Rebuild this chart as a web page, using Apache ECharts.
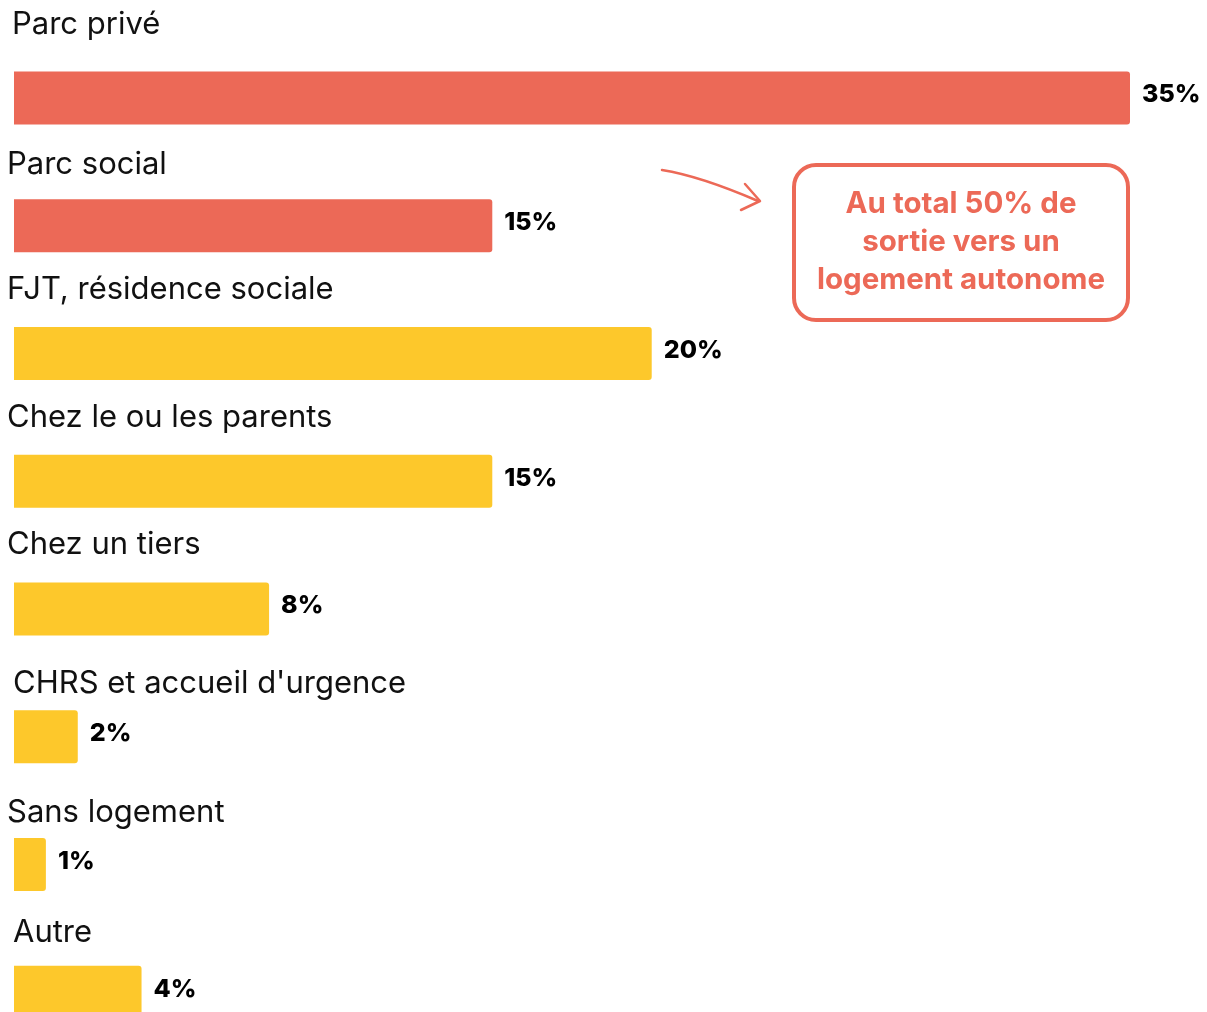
<!DOCTYPE html>
<html>
<head>
<meta charset="utf-8">
<script src="https://cdn.jsdelivr.net/npm/echarts@6/dist/echarts.min.js"></script>
<style>
  html, body { margin: 0; padding: 0; background: #ffffff; }
  #chart { width: 1207px; height: 1012px; }
</style>
</head>
<body>
<div id="chart"></div>
<script>
  // catégories de sortie (de haut en bas)
  var categories = [
    'Parc privé',
    'Parc social',
    'FJT, résidence sociale',
    'Chez le ou les parents',
    'Chez un tiers',
    "CHRS et accueil d'urgence",
    'Sans logement',
    'Autre'
  ];
  // part des sorties, en %
  var values = [35, 15, 20, 15, 8, 2, 1, 4];
  // les deux premiers = logement autonome
  var autonomous = [true, true, false, false, false, false, false, false];

  var noteLines = ['Au total 50% de', 'sortie vers un', 'logement autonome'];

  // décalage [x, y] du libellé par rapport au coin haut-gauche de la barre
  var nameOffset = [[-2, -47], [-7, -34], [-7, -37], [-7, -37], [-7, -38], [-1, -26], [-7, -25], [-1, -33]];

  var RED = '#ec6957';
  var YELLOW = '#fdc82b';
  var FONT = 'Inter, "Open Sans", sans-serif';

  var myChart = echarts.init(document.getElementById('chart'));

  var barData = values.map(function (v, i) {
    return {
      value: v,
      itemStyle: { color: autonomous[i] ? RED : YELLOW }
    };
  });

  var nameData = values.map(function (v, i) {
    return { value: v, label: { position: nameOffset[i] } };
  });

  myChart.setOption({
    animation: false,
    backgroundColor: '#ffffff',
    grid: { left: 14, right: 77, top: 34, height: 1022, containLabel: false, outerBoundsMode: 'none' },
    xAxis: {
      type: 'value',
      min: 0,
      max: 35,
      show: false
    },
    yAxis: {
      type: 'category',
      data: categories,
      inverse: true,
      show: false
    },
    series: [
      {
        // série fantôme : porte le nom de la catégorie au-dessus de la barre
        type: 'bar',
        data: nameData,
        barWidth: 53,
        silent: true,
        itemStyle: { color: 'rgba(0,0,0,0)' },
        label: {
          show: true,
          align: 'left',
          verticalAlign: 'middle',
          formatter: '{b}',
          color: '#111111',
          fontFamily: FONT,
          fontSize: 31,
          fontWeight: 400
        },
        z: 1
      },
      {
        type: 'bar',
        data: barData,
        barWidth: 53,
        barGap: '-100%',
        itemStyle: { borderRadius: [0, 3, 3, 0] },
        label: {
          show: true,
          position: 'right',
          distance: 12,
          offset: [0, -3],
          formatter: '{c}%',
          color: '#000000',
          fontFamily: FONT,
          fontSize: 25,
          fontWeight: 800
        },
        z: 2
      }
    ],
    graphic: [
      {
        type: 'rect',
        x: 794,
        y: 165,
        shape: { width: 334, height: 155, r: 22 },
        style: { fill: '#ffffff', stroke: RED, lineWidth: 4 }
      },
      {
        type: 'text',
        x: 961,
        y: 242,
        style: {
          text: noteLines.join('\n'),
          align: 'center',
          verticalAlign: 'middle',
          fill: RED,
          fontFamily: FONT,
          fontSize: 29.5,
          fontWeight: 700,
          lineHeight: 38
        }
      },
      {
        type: 'bezierCurve',
        shape: { x1: 662, y1: 170, cpx1: 700, cpy1: 176, x2: 758, y2: 201 },
        style: { stroke: RED, lineWidth: 2.5, fill: null, lineCap: 'round' }
      },
      {
        type: 'polyline',
        shape: { points: [[745, 184], [760, 201], [741, 210]] },
        style: { stroke: RED, lineWidth: 2.5, fill: null, lineCap: 'round', lineJoin: 'round' }
      }
    ]
  });
</script>
</body>
</html>
